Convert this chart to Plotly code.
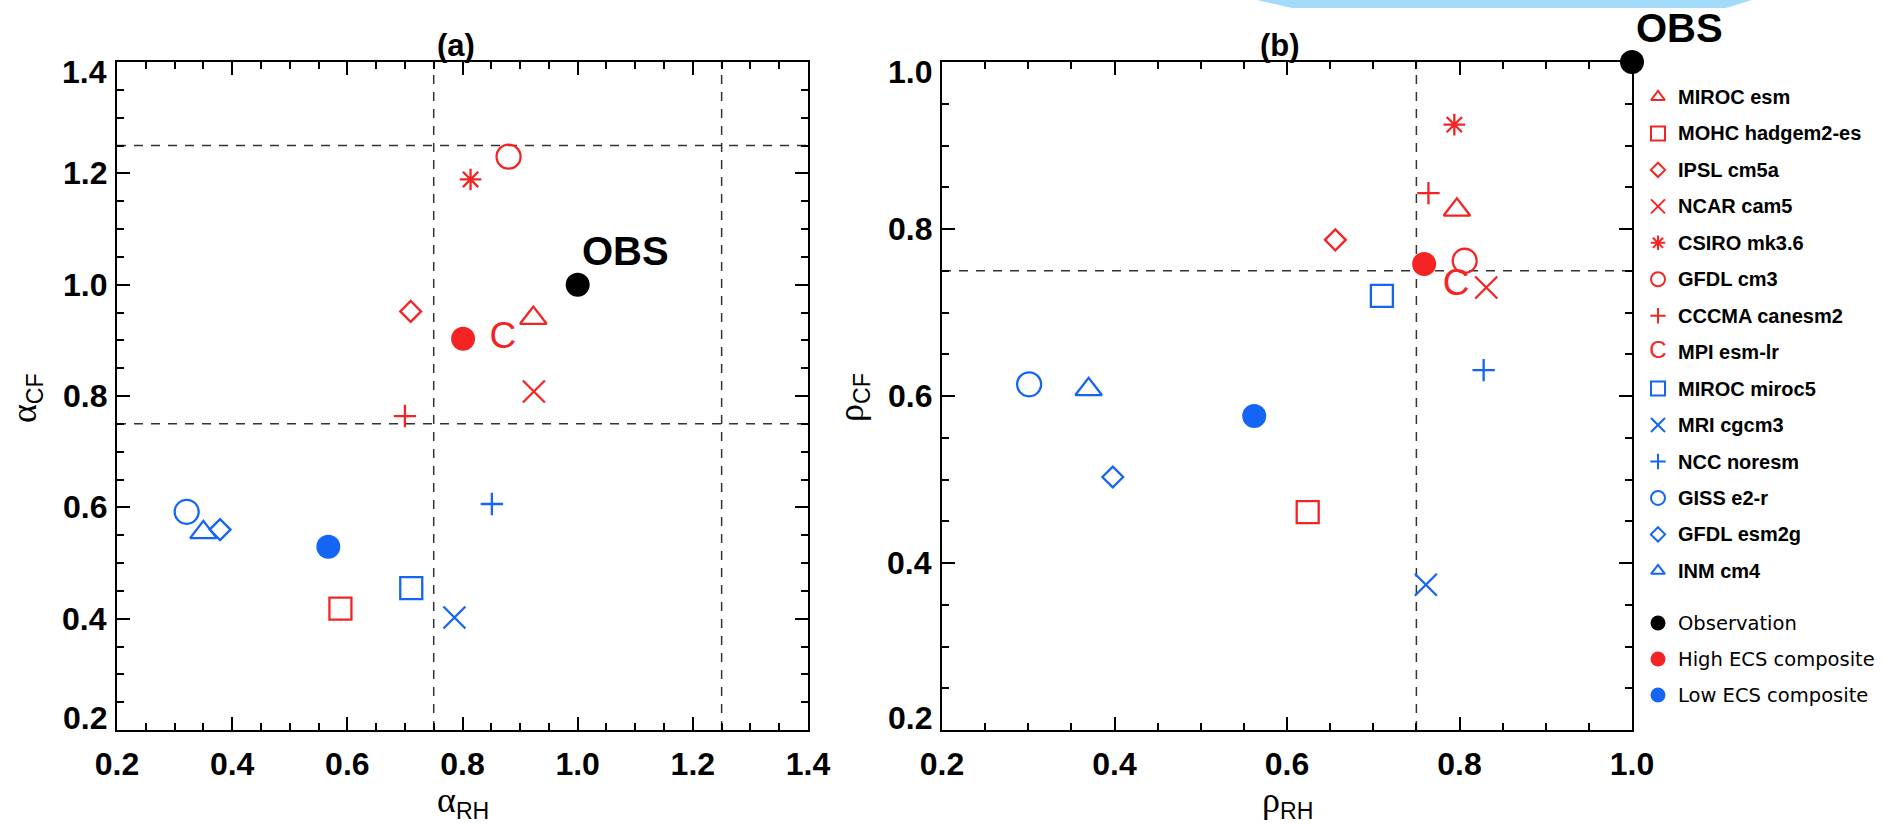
import plotly.graph_objects as go

# ---------------- data ----------------
models = ["MIROC esm", "MOHC hadgem2-es", "IPSL cm5a", "NCAR cam5", "CSIRO mk3.6",
          "GFDL cm3", "CCCMA canesm2", "MPI esm-lr", "MIROC miroc5", "MRI cgcm3",
          "NCC noresm", "GISS e2-r", "GFDL esm2g", "INM cm4"]
ecs_group = ["high"] * 8 + ["low"] * 6
model_symbols = ["triangle-up-open", "square-open", "diamond-open", "x-thin-open",
                 "asterisk-open", "circle-open", "cross-thin-open", "C",
                 "square-open", "x-thin-open", "cross-thin-open", "circle-open",
                 "diamond-open", "triangle-up-open"]

# panel (a): amplitude ratios
alpha_rh = [0.923, 0.588, 0.710, 0.924, 0.814, 0.880, 0.700, 0.870,
            0.711, 0.786, 0.851, 0.321, 0.379, 0.350]
alpha_cf = [0.940, 0.418, 0.952, 0.808, 1.189, 1.230, 0.764, 0.903,
            0.455, 0.402, 0.606, 0.592, 0.560, 0.555]
# panel (b): correlations
rho_rh = [0.797, 0.624, 0.656, 0.831, 0.794, 0.806, 0.764, 0.796,
          0.710, 0.761, 0.828, 0.301, 0.398, 0.370]
rho_cf = [0.823, 0.461, 0.787, 0.730, 0.925, 0.762, 0.843, 0.732,
          0.720, 0.374, 0.631, 0.614, 0.503, 0.608]

composite_names = ["Observation", "High ECS composite", "Low ECS composite"]
comp_alpha_rh = [1.0, 0.801, 0.567]
comp_alpha_cf = [1.0, 0.903, 0.529]
comp_rho_rh = [1.0, 0.759, 0.562]
comp_rho_cf = [1.0, 0.758, 0.576]

alpha_ref_lines = [0.75, 1.25]
rho_ref_lines = [0.75]
a_range = [0.2, 1.4]
b_range = [0.2, 1.0]
a_ticks = [0.2, 0.4, 0.6, 0.8, 1.0, 1.2, 1.4]
b_ticks = [0.2, 0.4, 0.6, 0.8, 1.0]
obs_label = "OBS"

# ---------------- styles ----------------
W, H = 1885, 824
RED = "#f52424"
BLUE = "#1565f5"
BLACK = "#000000"
group_color = {"high": RED, "low": BLUE}
comp_colors = [BLACK, RED, BLUE]
sym_size = {"triangle-up-open": 23, "square-open": 22, "diamond-open": 16,
            "x-thin-open": 22, "asterisk-open": 18, "circle-open": 24,
            "cross-thin-open": 16}
leg_size = {"triangle-up-open": 12, "square-open": 14, "diamond-open": 11,
            "x-thin-open": 14, "asterisk-open": 12, "circle-open": 14,
            "cross-thin-open": 11}
TICK_FONT = dict(family="Liberation Sans", size=32, color="black", weight="bold")


def px_x(p):
    return p / W


def px_y(p):
    return 1 - p / H


# panel boxes in pixels
A_BOX = (117, 808)
B_BOX = (942, 1632)
Y_BOX = (62, 730)

fig = go.Figure()


def add_models(xs, ys, xa, ya):
    for i, name in enumerate(models):
        col = group_color[ecs_group[i]]
        sym = model_symbols[i]
        if sym == "C":
            fig.add_trace(go.Scatter(
                x=[xs[i]], y=[ys[i]], mode="text", text=["C"], xaxis=xa, yaxis=ya,
                textfont=dict(family="Liberation Sans", size=37, color=col),
                textposition="middle center", cliponaxis=False, showlegend=False,
                name=name))
        else:
            fig.add_trace(go.Scatter(
                x=[xs[i]], y=[ys[i]], mode="markers", xaxis=xa, yaxis=ya,
                marker=dict(symbol=sym, size=sym_size[sym], color=col,
                            line=dict(color=col, width=2.3)),
                cliponaxis=False, showlegend=False, name=name))


def add_comps(xs, ys, xa, ya):
    for j, name in enumerate(composite_names):
        fig.add_trace(go.Scatter(
            x=[xs[j]], y=[ys[j]], mode="markers", xaxis=xa, yaxis=ya,
            marker=dict(symbol="circle", size=24, color=comp_colors[j]),
            cliponaxis=False, showlegend=False, name=name))


add_models(alpha_rh, alpha_cf, "x", "y")
add_comps(comp_alpha_rh, comp_alpha_cf, "x", "y")
add_models(rho_rh, rho_cf, "x2", "y2")
add_comps(comp_rho_rh, comp_rho_cf, "x2", "y2")

# ---------- legend drawn in its own hidden axes ----------
LEG_X = 1658
LEG_TEXT_X = 1676
leg_rows = [97 + 36.45 * i for i in range(len(models))]
comp_rows = [623 + 36 * j for j in range(len(composite_names))]
for i, name in enumerate(models):
    col = group_color[ecs_group[i]]
    sym = model_symbols[i]
    if sym == "C":
        fig.add_trace(go.Scatter(
            x=[LEG_X], y=[leg_rows[i]], mode="text", text=["C"], xaxis="x3", yaxis="y3",
            textfont=dict(family="Liberation Sans", size=24, color=col),
            cliponaxis=False, showlegend=False))
    else:
        fig.add_trace(go.Scatter(
            x=[LEG_X], y=[leg_rows[i]], mode="markers", xaxis="x3", yaxis="y3",
            marker=dict(symbol=sym, size=leg_size[sym], color=col,
                        line=dict(color=col, width=2)),
            cliponaxis=False, showlegend=False))
for j, name in enumerate(composite_names):
    fig.add_trace(go.Scatter(
        x=[LEG_X], y=[comp_rows[j]], mode="markers", xaxis="x3", yaxis="y3",
        marker=dict(symbol="circle", size=15, color=comp_colors[j]),
        cliponaxis=False, showlegend=False))

annotations = []
for i, name in enumerate(models):
    annotations.append(dict(x=px_x(LEG_TEXT_X), y=px_y(leg_rows[i]), xref="paper", yref="paper",
                            text=name, showarrow=False, xanchor="left", yanchor="middle",
                            font=dict(family="Liberation Sans", size=20, color="black", weight="bold")))
for j, name in enumerate(composite_names):
    annotations.append(dict(x=px_x(LEG_TEXT_X), y=px_y(comp_rows[j]), xref="paper", yref="paper",
                            text=name, showarrow=False, xanchor="left", yanchor="middle",
                            font=dict(family="DejaVu Sans", size=19.5, color="black")))

# OBS labels
for xa, ya, ox, oy in [("x", "y", comp_alpha_rh[0], comp_alpha_cf[0]),
                       ("x2", "y2", comp_rho_rh[0], comp_rho_cf[0])]:
    annotations.append(dict(x=ox, y=oy, xref=xa, yref=ya, text="<b>%s</b>" % obs_label,
                            showarrow=False, xanchor="left", yanchor="middle",
                            xshift=2, yshift=34, height=42, valign="middle",
                            font=dict(family="Liberation Sans", size=40, color="black")))

# panel titles
for txt, box in [("(a)", A_BOX), ("(b)", B_BOX)]:
    annotations.append(dict(x=px_x((box[0] + box[1]) / 2 - 7), y=px_y(46), xref="paper", yref="paper",
                            text=txt, showarrow=False, xanchor="center", yanchor="middle",
                            font=dict(family="Liberation Sans", size=31,
                                      color="black", weight="bold")))

# y tick labels (IDL style: end labels kept inside the axis extent)
for ya, ticks in [("y", a_ticks), ("y2", b_ticks)]:
    xa = "x" if ya == "y" else "x2"
    for k, v in enumerate(ticks):
        shift = 0
        if k == 0:
            shift = 12
        elif k == len(ticks) - 1:
            shift = -10
        annotations.append(dict(x=0, y=v, xref=xa + " domain", yref=ya, text="%.1f" % v,
                                showarrow=False, xanchor="right", yanchor="middle",
                                xshift=-8, yshift=shift, font=TICK_FONT))

# axis titles
GREEK = '<span style="font-family:Liberation Serif;font-size:36px">%s</span>'
TITLE_FONT = dict(family="Liberation Sans", size=33, color="black")
for txt, box in [("α", A_BOX), ("ρ", B_BOX)]:
    annotations.append(dict(x=px_x(sum(box) / 2), y=px_y(802), xref="paper", yref="paper",
                            text=GREEK % txt + "<sub>RH</sub>", showarrow=False,
                            xanchor="center", yanchor="middle", height=36, valign="middle",
                            font=TITLE_FONT))
for txt, xp in [("α", 26), ("ρ", 853)]:
    annotations.append(dict(x=px_x(xp), y=px_y(398), xref="paper", yref="paper",
                            text=GREEK % txt + "<sub>CF</sub>", showarrow=False, textangle=-90,
                            xanchor="center", yanchor="middle", font=TITLE_FONT))

# dashed reference lines
shapes = []
DASH = dict(color="#333333", width=1.5, dash="9px,8px")
for v in alpha_ref_lines:
    shapes.append(dict(type="line", xref="x", yref="y domain", x0=v, x1=v, y0=0, y1=1,
                       line=DASH, layer="below"))
    shapes.append(dict(type="line", xref="x domain", yref="y", x0=0, x1=1, y0=v, y1=v,
                       line=DASH, layer="below"))
for v in rho_ref_lines:
    shapes.append(dict(type="line", xref="x2", yref="y2 domain", x0=v, x1=v, y0=0, y1=1,
                       line=DASH, layer="below"))
    shapes.append(dict(type="line", xref="x2 domain", yref="y2", x0=0, x1=1, y0=v, y1=v,
                       line=DASH, layer="below"))

# light-blue strip at the top edge of the original image
band = [(1257, 0), (1752, 0), (1726, 8), (1292, 8)]
path = "M " + " L ".join("%.5f,%.5f" % (px_x(a), px_y(b)) for a, b in band) + " Z"
shapes.append(dict(type="path", xref="paper", yref="paper", path=path,
                   fillcolor="#a2dbf9", line=dict(width=0), layer="above"))


def axis(rng, dom, anchor, ticks, is_y):
    d = dict(range=rng, domain=dom, anchor=anchor, tickvals=ticks, tickformat=".1f",
             ticks="inside", ticklen=13, tickwidth=2, tickcolor="black", automargin=False,
             showline=True, linecolor="black", linewidth=2, mirror="allticks",
             showgrid=False, zeroline=False, tickfont=TICK_FONT,
             minor=dict(dtick=0.05, tick0=0.2, ticks="inside", ticklen=7, tickwidth=2,
                        tickcolor="black", showgrid=False))
    if is_y:
        d.update(showticklabels=False)
    else:
        d.update(ticklabelstandoff=5)
    return d


ydom = [px_y(Y_BOX[1]), px_y(Y_BOX[0])]
fig.update_layout(
    template="none",
    width=W, height=H, margin=dict(l=0, r=0, t=0, b=0, pad=0), autosize=False,
    paper_bgcolor="white", plot_bgcolor="white", showlegend=False,
    xaxis=axis(a_range, [px_x(A_BOX[0]), px_x(A_BOX[1])], "y", a_ticks, False),
    yaxis=axis(a_range, ydom, "x", a_ticks, True),
    xaxis2=axis(b_range, [px_x(B_BOX[0]), px_x(B_BOX[1])], "y2", b_ticks, False),
    yaxis2=axis(b_range, ydom, "x2", b_ticks, True),
    xaxis3=dict(range=[1640, W], domain=[px_x(1640), 1.0], anchor="y3", visible=False,
                fixedrange=True, automargin=False),
    yaxis3=dict(range=[H, 0], domain=[0, 1], anchor="x3", visible=False, fixedrange=True,
                automargin=False),
    annotations=annotations, shapes=shapes,
)

fig.write_html("out.html", config={"displayModeBar": False},
               post_script="document.body.style.margin='0';document.body.style.overflow='hidden';")
